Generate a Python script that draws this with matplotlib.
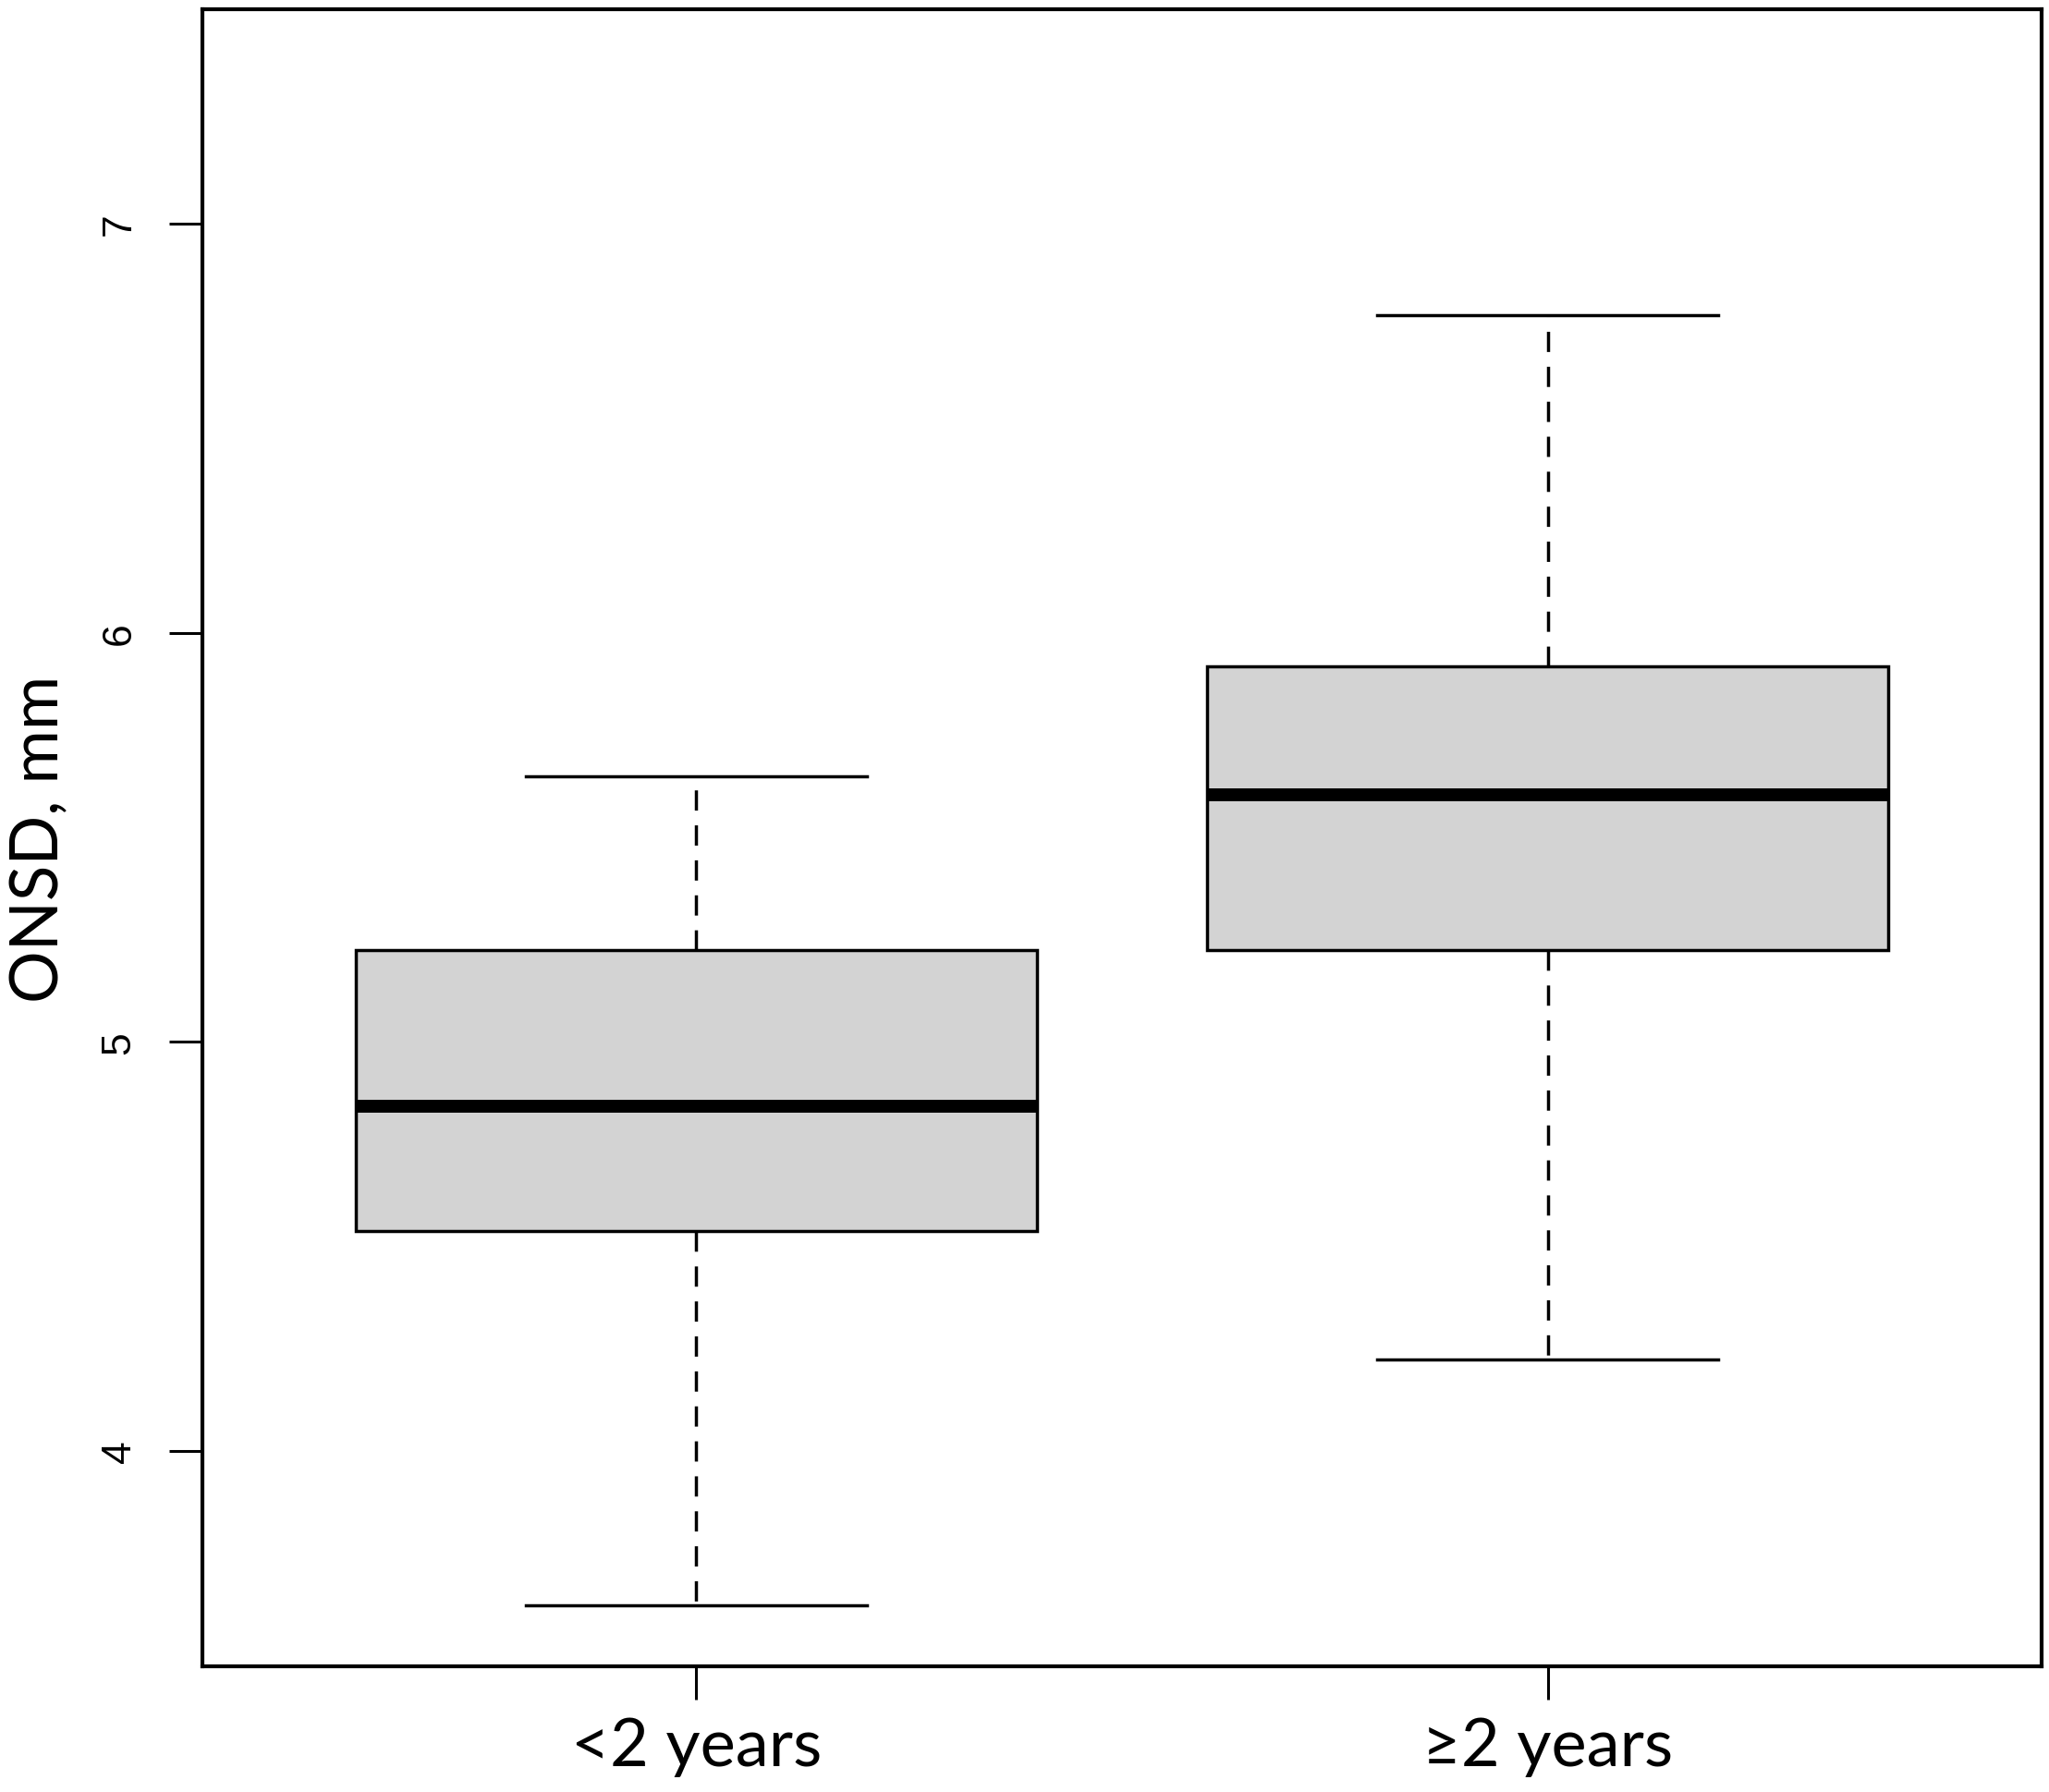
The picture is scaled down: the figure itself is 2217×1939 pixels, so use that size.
import matplotlib
matplotlib.use("Agg")
import matplotlib.pyplot as plt

categories = ["<2 years", "\u22652 years"]
whislo = [3.623, 4.224]
q1 = [4.537, 5.224]
med = [4.843, 5.604]
q3 = [5.224, 5.917]
whishi = [5.649, 6.776]
yticks = [4, 5, 6, 7]

stats = [dict(label=c, whislo=lo, q1=a, med=m, q3=b, whishi=hi, fliers=[])
         for c, lo, a, m, b, hi in zip(categories, whislo, q1, med, q3, whishi)]

fig = plt.figure(figsize=(22.17, 19.40), dpi=100)
ax = fig.add_axes([219/2217, 1 - 1804/1940, (2209-219)/2217, (1804-11)/1940])

lw = 2.5
ax.bxp(stats, positions=[1, 2], widths=0.8, patch_artist=True, showfliers=False,
       boxprops=dict(facecolor="#d3d3d3", edgecolor="black", linewidth=lw),
       medianprops=dict(color="black", linewidth=10, solid_capstyle="butt"),
       whiskerprops=dict(color="black", linewidth=lw, linestyle=(0, (6.3, 4.6))),
       capprops=dict(color="black", linewidth=lw), capwidths=0.4)

ax.set_xlim(0.42, 2.58)
ax.set_ylim(3.473, 7.524)
ax.set_yticks(yticks)
ax.set_yticklabels([str(t) for t in yticks], rotation=90, va="center",
                   fontsize=32, family="Liberation Sans")
ax.set_xticks([1, 2])
ax.set_xticklabels(categories, fontsize=52, family=["Lato", "DejaVu Sans"])
ax.tick_params(axis="both", length=26, width=2.2, direction="out")
ax.tick_params(axis="y", pad=24)
ax.tick_params(axis="x", pad=13)
ax.set_ylabel("ONSD, mm", fontsize=51, family="Lato", labelpad=24)
for s in ax.spines.values():
    s.set_linewidth(3)

fig.savefig("out.png", dpi=100, facecolor="white")
